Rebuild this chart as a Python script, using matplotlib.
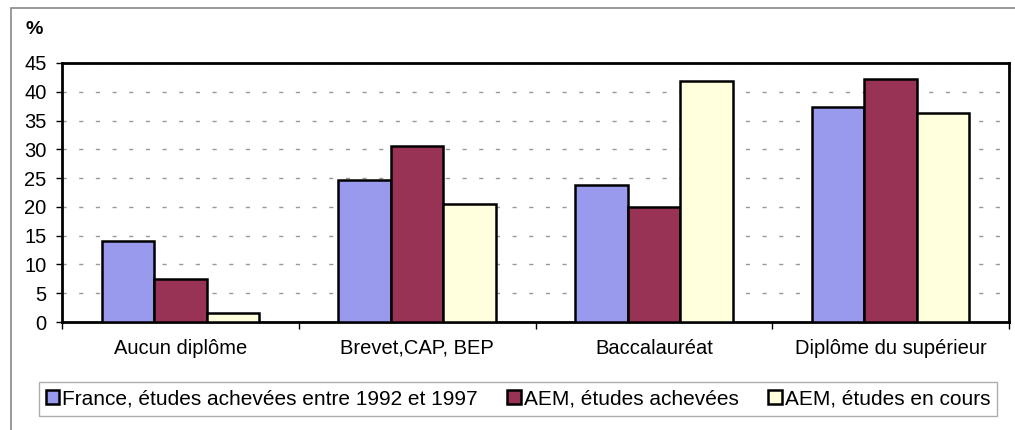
import numpy as np
import matplotlib.pyplot as plt
from matplotlib.patches import Rectangle

plt.rcParams['font.family'] = ['Liberation Sans', 'DejaVu Sans']

categories = ['Aucun diplôme', 'Brevet,CAP, BEP', 'Baccalauréat', 'Diplôme du supérieur']
series_names = ['France, études achevées entre 1992 et 1997',
                'AEM, études achevées',
                'AEM, études en cours']
france = [14.0, 24.7, 23.8, 37.4]
aem_achevees = [7.5, 30.6, 19.9, 42.2]
aem_en_cours = [1.5, 20.5, 41.9, 36.3]
yticks = [0, 5, 10, 15, 20, 25, 30, 35, 40, 45]

colors = ['#9999ee', '#993355', '#ffffdd']

fig = plt.figure(figsize=(10.15, 4.3), dpi=100)
ax = fig.add_axes([62 / 1015, 1 - 322 / 430, (1009 - 62) / 1015, (322 - 63) / 430])

# cadre extérieur (gauche et haut seulement visibles)
fig.add_artist(Rectangle((11 / 1015, -0.1), 1.2, 1 - 8 / 430 + 0.1,
                         transform=fig.transFigure, fill=False,
                         edgecolor='#888888', linewidth=1.2))

x = np.arange(len(categories))
w = 0.222
for i, (vals, c, name) in enumerate(zip([france, aem_achevees, aem_en_cours], colors, series_names)):
    ax.bar(x + (i - 1) * w, vals, width=w, color=c, edgecolor='black',
           linewidth=1.8, label=name, zorder=3)

ax.set_xlim(-0.5, len(categories) - 0.5)
ax.set_ylim(0, 45)
ax.set_yticks(yticks)
ax.tick_params(axis='y', labelsize=14.5, length=4, width=1, pad=7)
ax.set_xticks(x)
ax.set_xticklabels(categories, fontsize=14.5)
ax.tick_params(axis='x', length=0, pad=12)
ax.set_xticks(np.arange(len(categories) + 1) - 0.5, minor=True)
ax.tick_params(axis='x', which='minor', length=5, width=1, direction='out')

ax.grid(axis='y', color='#999999', linestyle=(0, (3, 9)), linewidth=1, zorder=0)
for s in ax.spines.values():
    s.set_linewidth(2)
    s.set_color('black')

fig.text(25 / 1015, 1 - 30 / 430, '%', fontsize=14, fontweight='bold', va='center')

leg = fig.legend(loc='center', bbox_to_anchor=(518 / 1015, 1 - 399 / 430),
                 ncol=3, fontsize=15, frameon=True, fancybox=False,
                 edgecolor='#999999', handlelength=0.65, handleheight=0.65,
                 handletextpad=0.15, columnspacing=1.4, borderpad=0.35)
leg.get_frame().set_linewidth(1)

fig.savefig('out.png', dpi=100)
